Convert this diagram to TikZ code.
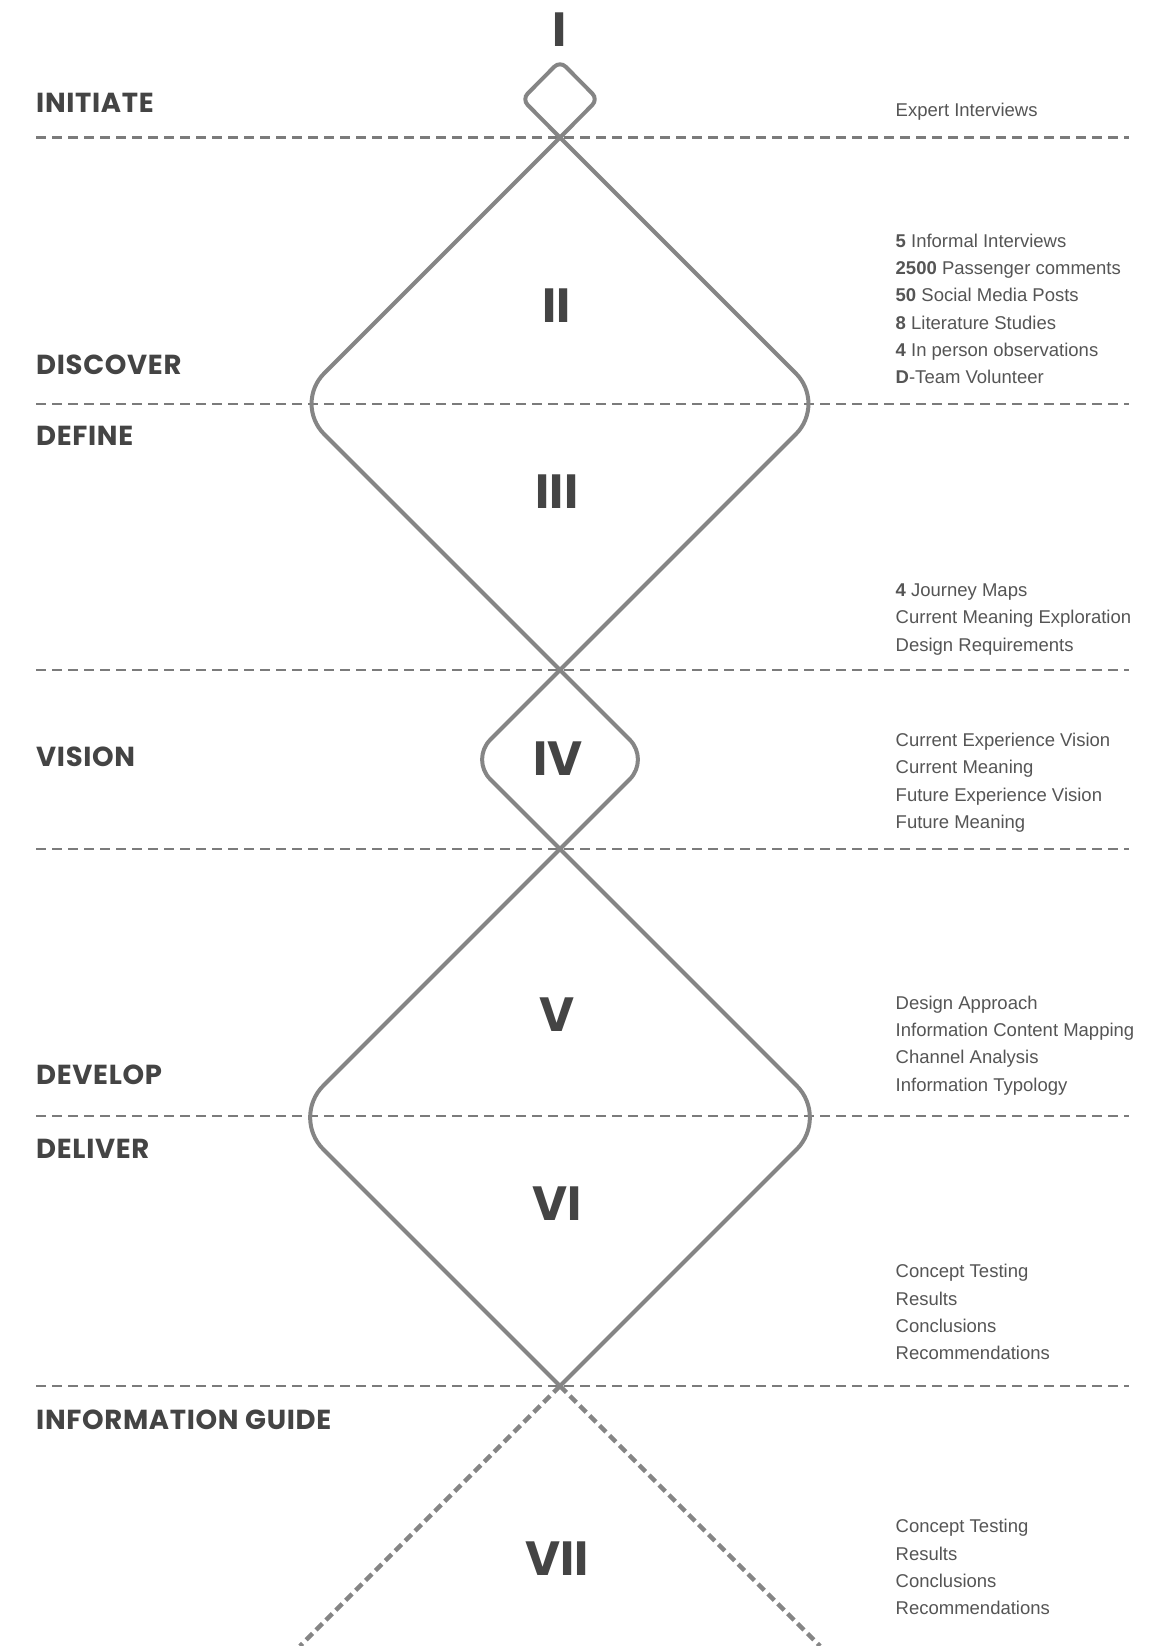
\documentclass[tikz,border=0pt]{standalone}
\usepackage{fontspec}
\setmainfont{Liberation Sans}
\newfontfamily\labfont{Poppins}[LetterSpace=2.5]
\newfontfamily\numfont{Poppins}
\definecolor{linegray}{HTML}{858585}
\definecolor{dashgray}{HTML}{7B7B7B}
\definecolor{darktext}{HTML}{444444}
\definecolor{bodytext}{HTML}{555555}
\tikzset{
  lab/.style={anchor=base west, inner sep=0pt, font=\labfont\bfseries\fontsize{27.5}{27.5}\selectfont, text=darktext},
  numeral/.style={anchor=base, inner sep=0pt, font=\numfont\bfseries\fontsize{48}{48}\selectfont, text=darktext},
  item/.style={anchor=base west, inner sep=0pt, font=\fontsize{18.5}{18.5}\selectfont, text=bodytext},
  sepline/.style={dashgray, line width=2.5pt, dash pattern=on 10pt off 6pt},
  edge/.style={linegray, line width=4pt},
  openedge/.style={linegray, line width=4.5pt, dash pattern=on 9pt off 5pt}
}
\begin{document}
\begin{tikzpicture}[x=1pt,y=-1pt]
\fill[white] (0,0) rectangle (1160,1646);
\useasboundingbox (0,0) rectangle (1160,1646);
% separators
\foreach \yy/\nm in {137.5/s1,404/s2,670/s3,849/s4,1116/s5,1386/s6}{
  \coordinate (\nm a) at (36,\yy);
  \coordinate (\nm b) at (1129,\yy);
  \draw[sepline] (\nm a) -- (\nm b);
}
% crossing points
\coordinate (c0) at (560,61);
\coordinate (c1) at (560,137.5);
\coordinate (c2) at (560,670);
\coordinate (c3) at (560,849);
\coordinate (c4) at (560,1386);
% diamond I
\coordinate (d1l) at (522,99.25);
\coordinate (d1r) at (598,99.25);
\draw[edge, rounded corners=8pt] (c1) -- (d1l) -- (c0) -- (d1r) -- (c1);
% diamond II/III
\coordinate (d2l) at (293.75,403.75);
\coordinate (d2r) at (826.25,403.75);
\draw[edge, rounded corners=43pt] (c1) -- (d2l) -- (c2);
\draw[edge, rounded corners=43pt] (c1) -- (d2r) -- (c2);
% diamond IV
\coordinate (d4l) at (470.5,759.5);
\coordinate (d4r) at (649.5,759.5);
\draw[edge, rounded corners=28pt] (c2) -- (d4l) -- (c3);
\draw[edge, rounded corners=28pt] (c2) -- (d4r) -- (c3);
% diamond V/VI
\coordinate (d5l) at (291.5,1117.5);
\coordinate (d5r) at (828.5,1117.5);
\draw[edge, rounded corners=45pt] (c3) -- (d5l) -- (c4);
\draw[edge, rounded corners=45pt] (c3) -- (d5r) -- (c4);
% open VII
\coordinate (e7l) at (300,1646);
\coordinate (e7r) at (820,1646);
\draw[openedge] (c4) -- (e7l);
\draw[openedge] (c4) -- (e7r);
% numerals
\node[numeral] (n1) at (560,46.7) {I};
\node[numeral] (n2) at (556.5,322) {II};
\node[numeral] (n3) at (557,508) {III};
\node[numeral] (n4) at (558,775) {IV};
\node[numeral] (n5) at (557,1031.7) {V};
\node[numeral] (n6) at (557,1220.7) {VI};
\node[numeral] (n7) at (557,1575) {VII};
% labels
\node[lab] (l1) at (36,112.3) {INITIATE};
\node[lab] (l2) at (36,374) {DISCOVER};
\node[lab] (l3) at (36,445) {DEFINE};
\node[lab] (l4) at (36,766.6) {VISION};
\node[lab] (l5) at (36,1084.3) {DEVELOP};
\node[lab] (l6) at (36,1158.3) {DELIVER};
\node[lab] (l7) at (36,1429.3) {INFORMATION GUIDE};
% right texts
\node[item] (t1) at (895.5,116.7) {Expert Interviews};
\node[item] (t2a) at (895.5,247.5) {\textbf{5} Informal Interviews};
\node[item] (t2b) at (895.5,274.7) {\textbf{2500} Passenger comments};
\node[item] (t2c) at (895.5,301.9) {\textbf{50} Social Media Posts};
\node[item] (t2d) at (895.5,329.1) {\textbf{8} Literature Studies};
\node[item] (t2e) at (895.5,356.3) {\textbf{4} In person observations};
\node[item] (t2f) at (895.5,383.5) {\textbf{D}-Team Volunteer};
\node[item] (t3a) at (895.5,596.5) {\textbf{4} Journey Maps};
\node[item] (t3b) at (895.5,623.8) {Current Meaning Exploration};
\node[item] (t3c) at (895.5,651.1) {Design Requirements};
\node[item] (t4a) at (895.5,746.5) {Current Experience Vision};
\node[item] (t4b) at (895.5,773.8) {Current Meaning};
\node[item] (t4c) at (895.5,801.1) {Future Experience Vision};
\node[item] (t4d) at (895.5,828.4) {Future Meaning};
\node[item] (t5a) at (895.5,1009.3) {Design Approach};
\node[item] (t5b) at (895.5,1036.6) {Information Content Mapping};
\node[item] (t5c) at (895.5,1063.9) {Channel Analysis};
\node[item] (t5d) at (895.5,1091.2) {Information Typology};
\node[item] (t6a) at (895.5,1277.8) {Concept Testing};
\node[item] (t6b) at (895.5,1305.1) {Results};
\node[item] (t6c) at (895.5,1332.4) {Conclusions};
\node[item] (t6d) at (895.5,1359.7) {Recommendations};
\node[item] (t7a) at (895.5,1532.9) {Concept Testing};
\node[item] (t7b) at (895.5,1560.2) {Results};
\node[item] (t7c) at (895.5,1587.5) {Conclusions};
\node[item] (t7d) at (895.5,1614.8) {Recommendations};
\end{tikzpicture}
\end{document}
